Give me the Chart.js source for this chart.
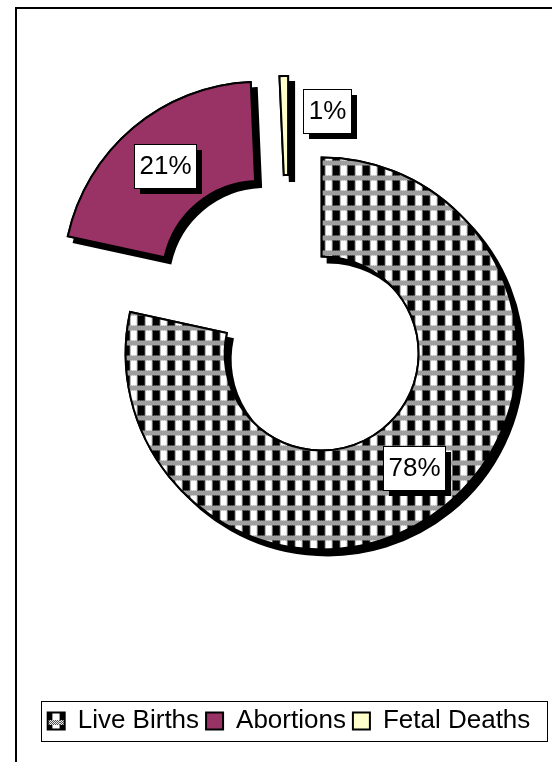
<!DOCTYPE html>
<html>
<head>
<meta charset="utf-8">
<script src="https://cdn.jsdelivr.net/npm/chart.js@4.4.1/dist/chart.umd.min.js"></script>
<style>
    html, body { margin: 0; padding: 0; background: #ffffff; }
    #wrap { width: 552px; height: 762px; }
</style>
</head>
<body>
<div id="wrap"><canvas id="grafico" width="552" height="762"></canvas></div>
<script>
const categorias = ['Live Births', 'Abortions', 'Fetal Deaths'];
const percentuais = [78.4, 20.9, 0.7];
const rotulos = ['78%', '21%', '1%'];

const FONTE = '"Liberation Sans", Arial, sans-serif';
const EXPLODE = [52, 46, 41];   // afastamento de cada fatia
const SOMBRA = 6;

const canvas = document.getElementById('grafico');
const ctxPrincipal = canvas.getContext('2d');

// quadriculado preto e branco das "Live Births"
function padraoXadrez() {
    const c = document.createElement('canvas');
    c.width = 15;
    c.height = 15;
    const g = c.getContext('2d');
    g.fillStyle = '#ffffff';
    g.fillRect(0, 0, 15, 15);
    for (let y = 0; y < 5; y++) {
        for (let x = 0; x < 15; x++) {
            g.fillStyle = (x + y) % 2 ? '#e8e8e8' : '#555555';
            g.fillRect(x, y, 1, 1);
        }
    }
    g.fillStyle = '#000000';
    g.fillRect(0, 5, 7, 10);
    g.fillStyle = '#9a9a9a';
    g.fillRect(7, 5, 1, 10);
    g.fillRect(14, 5, 1, 10);
    return ctxPrincipal.createPattern(c, 'repeat');
}

const cores = [padraoXadrez(), '#993366', '#ffffcc'];

function centroFatia(arc, i) {
    const meio = (arc.startAngle + arc.endAngle) / 2;
    return {
        meio: meio,
        x: arc.x + Math.cos(meio) * EXPLODE[i],
        y: arc.y + Math.sin(meio) * EXPLODE[i]
    };
}

// fatias separadas, com sombra preta
const fatiasExplodidas = {
    id: 'fatiasExplodidas',
    beforeDatasetDraw(chart, args) {
        const ctx = chart.ctx;
        const arcos = args.meta.data;
        for (let passo = 0; passo < 2; passo++) {
            arcos.forEach((arc, i) => {
                const c = centroFatia(arc, i);
                ctx.save();
                ctx.translate(c.x - arc.x, c.y - arc.y);
                if (passo === 0) {
                    ctx.shadowColor = '#000000';
                    ctx.shadowOffsetX = SOMBRA;
                    ctx.shadowOffsetY = SOMBRA;
                    ctx.shadowBlur = 0;
                }
                arc.draw(ctx);
                ctx.restore();
            });
        }
        return false;
    },
    afterDatasetsDraw(chart) {
        const ctx = chart.ctx;
        const meta = chart.getDatasetMeta(0);
        ctx.save();
        ctx.font = '26px ' + FONTE;
        ctx.textAlign = 'center';
        ctx.textBaseline = 'middle';
        meta.data.forEach((arc, i) => {
            const c = centroFatia(arc, i);
            const texto = rotulos[i];
            const w = Math.round(ctx.measureText(texto).width + 10);
            const h = 44;
            let x, y;
            if (arc.circumference < 0.2) {
                const r = arc.outerRadius * 0.82;
                x = c.x + Math.cos(c.meio) * r + 18 + w / 2;
                y = c.y + Math.sin(c.meio) * r;
            } else {
                const r = (arc.innerRadius + arc.outerRadius) / 2;
                x = c.x + Math.cos(c.meio) * r;
                y = c.y + Math.sin(c.meio) * r;
            }
            const esq = Math.round(x - w / 2);
            const topo = Math.round(y - h / 2);
            ctx.fillStyle = '#000000';
            ctx.fillRect(esq + SOMBRA, topo + SOMBRA, w, h);
            ctx.fillStyle = '#ffffff';
            ctx.fillRect(esq, topo, w, h);
            ctx.lineWidth = 1;
            ctx.strokeStyle = '#000000';
            ctx.strokeRect(esq + 0.5, topo + 0.5, w, h);
            ctx.fillStyle = '#000000';
            ctx.fillText(texto, esq + w / 2 + 0.5, topo + h / 2 + 1);
        });
        ctx.restore();
    }
};

// moldura do gráfico e caixa da legenda
const molduras = {
    id: 'molduras',
    beforeDraw(chart) {
        const ctx = chart.ctx;
        ctx.save();
        ctx.fillStyle = '#ffffff';
        ctx.fillRect(0, 0, chart.width, chart.height);
        ctx.strokeStyle = '#000000';
        ctx.lineWidth = 2;
        ctx.strokeRect(16, 8, 700, 900);
        ctx.restore();
    },
    afterDraw(chart) {
        const caixas = chart.legend.legendHitBoxes;
        if (!caixas || !caixas.length) return;
        const esq = Math.min(...caixas.map(b => b.left)) - 7;
        const dir = Math.max(...caixas.map(b => b.left + b.width)) + 16;
        const meio = caixas[0].top + caixas[0].height / 2;
        const ctx = chart.ctx;
        ctx.save();
        ctx.strokeStyle = '#000000';
        ctx.lineWidth = 1;
        ctx.strokeRect(Math.round(esq) + 0.5, Math.round(meio - 20) + 0.5, Math.round(dir - esq), 40);
        ctx.restore();
    }
};

const dados = {
    labels: categorias,
    datasets: [{
        label: 'Outcomes',
        data: percentuais,
        backgroundColor: cores,
        borderColor: '#000000',
        borderWidth: 2,
        borderJoinStyle: 'miter',
        hoverOffset: 0
    }]
};

const config = {
    type: 'doughnut',
    data: dados,
    options: {
        responsive: false,
        animation: false,
        events: [],
        radius: 196,
        cutout: '49.5%',
        layout: {
            padding: { left: 26, right: 0, top: 0, bottom: 18 }
        },
        plugins: {
            tooltip: { enabled: false },
            legend: {
                position: 'bottom',
                title: {
                    display: true,
                    text: '',
                    font: { size: 10, lineHeight: 1 },
                    padding: { top: 65, bottom: 0 }
                },
                labels: {
                    color: '#000000',
                    font: { family: FONTE, size: 26 },
                    boxWidth: 17,
                    boxHeight: 17,
                    padding: 7
                }
            }
        }
    },
    plugins: [molduras, fatiasExplodidas]
};

const grafico = new Chart(canvas, config);
</script>
</body>
</html>
